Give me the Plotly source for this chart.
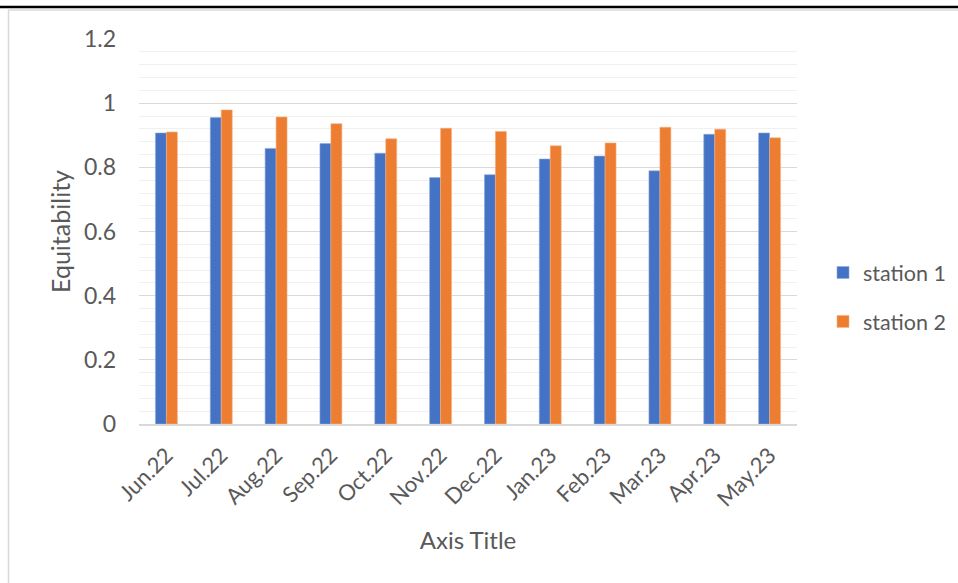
import plotly.graph_objects as go

months = ["Jun.22", "Jul.22", "Aug.22", "Sep.22", "Oct.22", "Nov.22",
          "Dec.22", "Jan.23", "Feb.23", "Mar.23", "Apr.23", "May.23"]
station1 = [0.907, 0.955, 0.859, 0.874, 0.844, 0.768, 0.777, 0.826, 0.835, 0.789, 0.903, 0.907]
station2 = [0.910, 0.979, 0.957, 0.936, 0.889, 0.922, 0.912, 0.867, 0.876, 0.925, 0.919, 0.892]
y_ticks = [0, 0.2, 0.4, 0.6, 0.8, 1, 1.2]
y_tick_text = ["0", "0.2", "0.4", "0.6", "0.8", "1", "1.2"]

FONT = "Lato, Calibri, Carlito, sans-serif"
TXT = "#595959"

fig = go.Figure()
fig.add_trace(go.Bar(x=months, y=station1, name="station 1",
                     marker=dict(color="#4472C4", line=dict(width=0.6, color="#8FAADC")),
                     legendgroup="a"))
fig.add_trace(go.Bar(x=months, y=station2, name="station 2",
                     marker=dict(color="#ED7D31", line=dict(width=0.6, color="#F4B183")),
                     legendgroup="b"))

# plot area in pixels: x 139..797, y 39..424
L, R, T, B = 139, 797, 39, 424
W, H = 958, 583
pw, ph = R - L, B - T


def px(x):
    return (x - L) / pw


def py(y):
    return (B - y) / ph


fig.update_layout(
    width=W, height=H,
    margin=dict(l=L, r=W - R, t=T, b=H - B, pad=0, autoexpand=False),
    paper_bgcolor="white", plot_bgcolor="white",
    font=dict(family=FONT, color=TXT),
    barmode="group", bargap=0.6, bargroupgap=0,
    showlegend=True,
    legend=dict(x=px(823), y=py(297), xanchor="left", yanchor="middle",
                font=dict(size=21.5, color=TXT), tracegroupgap=18,
                itemwidth=30, bgcolor="rgba(0,0,0,0)"),
    xaxis=dict(tickangle=-45, tickfont=dict(size=22, color=TXT), ticklabelstandoff=8,
               showgrid=False, showline=True, linecolor="#D9D9D9", linewidth=1.5,
               ticks="", automargin=False,
               title=dict(text="Axis Title", font=dict(size=24, color=TXT), standoff=22)),
    yaxis=dict(range=[0, 1.2], tickvals=y_ticks, ticktext=y_tick_text,
               tickfont=dict(size=23, color=TXT), ticklabelstandoff=22, automargin=False,
               showgrid=True, gridcolor="#D9D9D9", gridwidth=1.3,
               minor=dict(dtick=0.04, showgrid=True, gridcolor="#F0F0F0", gridwidth=1.3),
               zeroline=False, showline=False,
               title=dict(text="Equitability", font=dict(size=25, color=TXT), standoff=6)),
    shapes=[
        # heavy rule across the top
        dict(type="line", xref="paper", yref="paper", x0=px(0), x1=px(W), y0=py(7), y1=py(7),
             line=dict(color="black", width=2.5)),
        # chart frame edges
        dict(type="line", xref="paper", yref="paper", x0=px(8.5), x1=px(W), y0=py(10), y1=py(10),
             line=dict(color="#D9D9D9", width=1.5)),
        dict(type="line", xref="paper", yref="paper", x0=px(8.5), x1=px(8.5), y0=py(10), y1=py(H),
             line=dict(color="#D9D9D9", width=1.5)),
    ],
)

fig.write_html("out.html")
